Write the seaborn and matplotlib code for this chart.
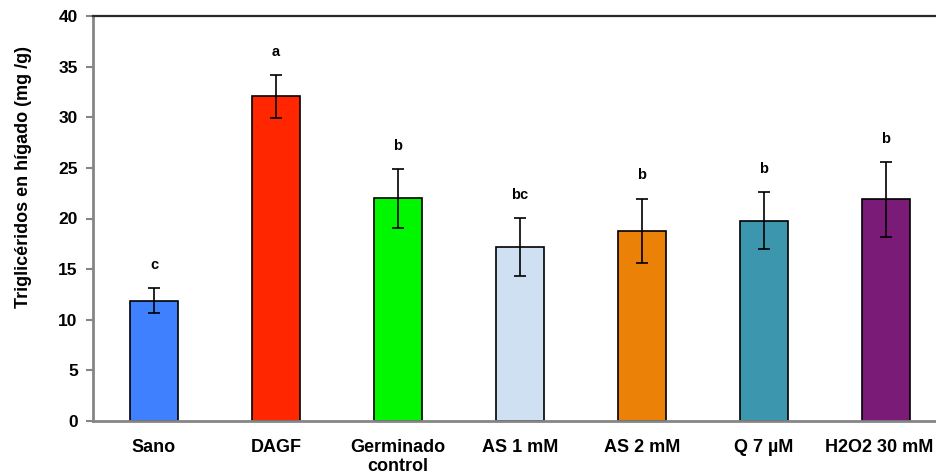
import matplotlib
matplotlib.use("Agg")
import matplotlib.pyplot as plt
import matplotlib.transforms as mtransforms
import seaborn as sns
import pandas as pd

categories = ["Sano", "DAGF", "Germinado\ncontrol", "AS 1 mM", "AS 2 mM", "Q 7 µM", "H2O2 30 mM"]
means = [11.9, 32.05, 22.0, 17.2, 18.8, 19.8, 21.9]
errors = [1.25, 2.1, 2.9, 2.87, 3.15, 2.8, 3.7]
letters = ["c", "a", "b", "bc", "b", "b", "b"]
colors = ["#3F80FF", "#FF2600", "#00F700", "#CFE0F2", "#EB8107", "#3C97AE", "#7A1B78"]

sns.set_style("white")
plt.rcParams["font.family"] = ["Liberation Sans", "DejaVu Sans"]
plt.rcParams["font.weight"] = "bold"
plt.rcParams["text.color"] = "black"
plt.rcParams["axes.labelcolor"] = "black"
plt.rcParams["xtick.color"] = "black"
plt.rcParams["ytick.color"] = "black"

df = pd.DataFrame({"cat": categories, "val": means})

fig = plt.figure(figsize=(9.37, 4.74), dpi=100)
W, H = 937, 474
ax = fig.add_axes([93 / W, (H - 421) / H, (947 - 93) / W, (421 - 16) / H])

sns.barplot(data=df, x="cat", y="val", hue="cat", palette=colors, legend=False,
            width=0.4, edgecolor="black", linewidth=1.2, ax=ax, errorbar=None,
            saturation=1)

xs = list(range(len(categories)))
ax.errorbar(xs, means, yerr=errors, fmt="none", ecolor="black", elinewidth=1.2,
            capsize=4, capthick=1.2)

for x, m, e, t in zip(xs, means, errors, letters):
    ax.text(x, m + e + 2.3, t, ha="center", va="center", fontsize=10.5,
            fontweight="bold", color="black")

ax.set_xlim(-0.5, 6.5)
ax.set_ylim(0, 40)
ax.set_yticks(range(0, 41, 5))
ax.set_xlabel("")
ax.set_ylabel("Triglicéridos en hígado (mg /g)", fontsize=13, fontweight="bold")
ax.yaxis.set_label_coords(-0.0715, 0.602)

for s in ["left", "bottom"]:
    ax.spines[s].set_color("#858585")
    ax.spines[s].set_linewidth(2)
ax.spines["top"].set_color("#2a2a2a")
ax.spines["top"].set_linewidth(1.6)
ax.spines["right"].set_visible(False)

ax.tick_params(axis="y", direction="out", length=5, width=1.5, color="#858585",
               labelcolor="black", labelsize=12.5, pad=6, left=True)
ax.tick_params(axis="x", length=0, labelsize=13, pad=13, labelcolor="black")
for lab in ax.get_xticklabels() + ax.get_yticklabels():
    lab.set_fontweight("bold")
for lab in ax.get_xticklabels():
    lab.set_linespacing(1.15)

last = ax.get_xticklabels()[-1]
last.set_transform(last.get_transform() + mtransforms.ScaledTranslation(-7 / 100, 0, fig.dpi_scale_trans))

fig.savefig("out.png", dpi=100)
